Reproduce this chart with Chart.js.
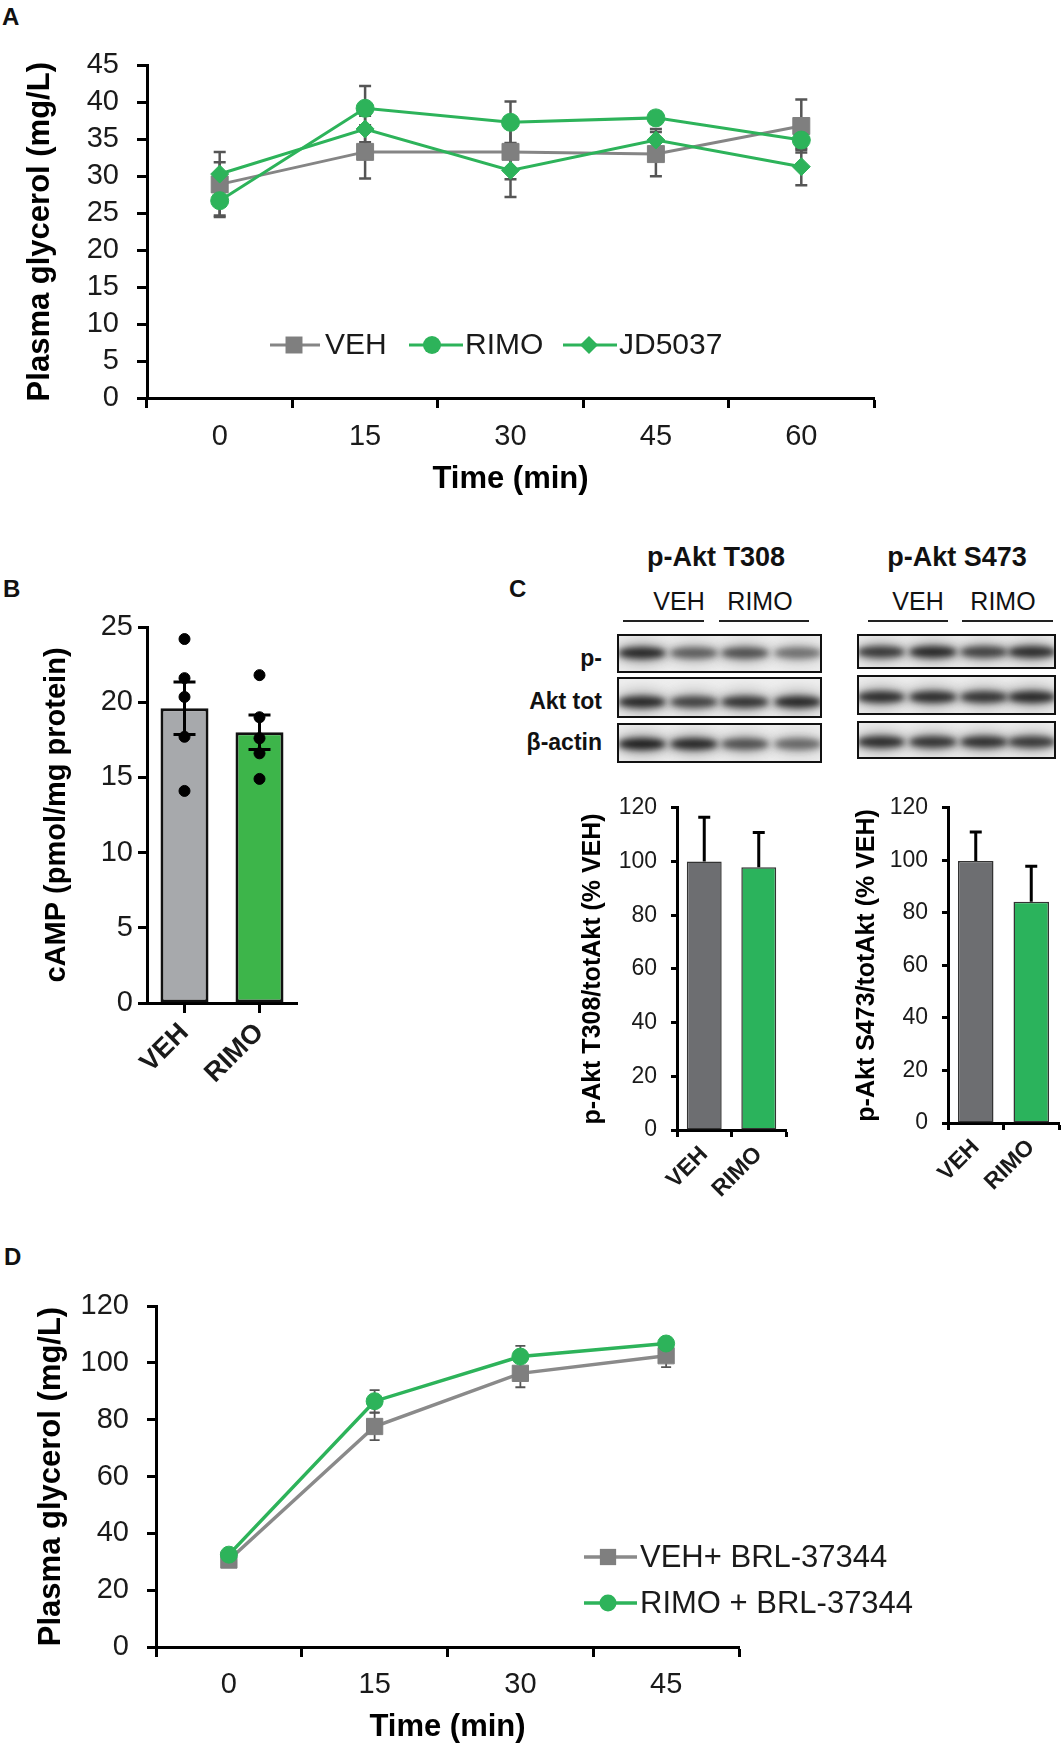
<!DOCTYPE html>
<html><head><meta charset="utf-8">
<script src="https://cdn.jsdelivr.net/npm/chart.js@4.4.1/dist/chart.umd.min.js"></script>
<style>
html,body{margin:0;padding:0;background:#fff;}
body{width:1061px;height:1747px;position:relative;overflow:hidden;font-family:"Liberation Sans",Arial,sans-serif;}
canvas{position:absolute;}
.t{position:absolute;white-space:nowrap;line-height:1;color:#111;}
.blot{position:absolute;border:2px solid #111;box-sizing:border-box;overflow:hidden;background:#eeeeee;}
.band{position:absolute;border-radius:50%;}
.ln{position:absolute;height:2px;background:#222;}
</style></head><body>
<script>
// ================= DATA =================
const timeA = ['0', '15', '30', '45', '60'];
const vehA = [28.9, 33.3, 33.3, 33.0, 36.8];
const vehAErr = [4.4, 3.6, 3.7, 3.0, 3.6];
const rimoA = [26.7, 39.2, 37.3, 37.9, 34.9];
const rimoAErr = [2.0, 3.0, 2.8, 0.8, 1.3];
const jdA = [30.3, 36.4, 30.8, 34.9, 31.3];
const jdAErr = [1.6, 1.8, 3.6, 1.5, 2.5];

const groupsB = ['VEH', 'RIMO'];
const meanB = [19.6, 18.0];
const semB = [1.75, 1.15];
const dotsVehB = [24.2, 21.6, 20.35, 17.7, 14.1];
const dotsRimoB = [21.8, 19.0, 17.6, 16.6, 14.9];

const groupsC = ['VEH', 'RIMO'];
const t308 = [100, 97.9];
const t308Err = [16.5, 12.9];
const s473 = [99.7, 84.2];
const s473Err = [11.1, 13.5];

const timeD = ['0', '15', '30', '45'];
const vehD = [30.6, 77.6, 96.3, 102.5];
const vehDErr = [1.5, 4.8, 4.9, 4.0];
const rimoD = [32.5, 86.5, 102.2, 106.8];
const rimoDErr = [1.5, 3.9, 3.8, 1.6];

const blotRowLabels = ['p-', 'Akt tot', 'β-actin'];
const bandT308 = [[0.95, 0.65, 0.72, 0.55], [0.95, 0.8, 0.88, 0.95], [1.0, 0.95, 0.72, 0.6]];
const bandS473 = [[0.85, 0.95, 0.8, 0.92], [0.92, 0.92, 0.88, 0.95], [0.92, 0.88, 0.9, 0.85]];

// ================= HELPERS =================
const FONT = '"Liberation Sans", Arial, sans-serif';
Chart.defaults.font.family = FONT;
Chart.defaults.color = '#1a1a1a';

function mk(left, top, w, h) {
  const c = document.createElement('canvas');
  c.width = w; c.height = h;
  c.style.left = left + 'px'; c.style.top = top + 'px';
  c.style.width = w + 'px'; c.style.height = h + 'px';
  document.body.appendChild(c);
  return c;
}
function txt(s, x, y, size, bold, align) {
  const d = document.createElement('div');
  d.className = 't';
  d.textContent = s;
  d.style.fontSize = size + 'px';
  d.style.fontWeight = bold ? 'bold' : 'normal';
  d.style.left = x + 'px'; d.style.top = y + 'px';
  d.style.transform = align === 'r' ? 'translate(-100%,-50%)' : align === 'c' ? 'translate(-50%,-50%)' : 'none';
  document.body.appendChild(d);
}
function line(x, y, w) {
  const d = document.createElement('div');
  d.className = 'ln';
  d.style.left = x + 'px'; d.style.top = y + 'px'; d.style.width = w + 'px';
  document.body.appendChild(d);
}
function marker(ctx, style, x, y, r, fill) {
  ctx.fillStyle = fill; ctx.beginPath();
  if (style === 'rect') { const s = r * Math.SQRT1_2; ctx.rect(x - s, y - s, 2 * s, 2 * s); }
  else if (style === 'rectRot') { ctx.moveTo(x, y - r); ctx.lineTo(x + r, y); ctx.lineTo(x, y + r); ctx.lineTo(x - r, y); ctx.closePath(); }
  else ctx.arc(x, y, r, 0, Math.PI * 2);
  ctx.fill();
}
const legendPlugin = {
  id: 'pageLegend',
  afterDraw(chart, args, o) {
    if (!o || !o.items) return;
    const ctx = chart.ctx; ctx.save();
    o.items.forEach(it => {
      const ds = chart.data.datasets[it.ds];
      const y = it.y - o.oy, x0 = it.x0 - o.ox, x1 = it.x1 - o.ox;
      ctx.strokeStyle = ds.borderColor; ctx.lineWidth = ds.borderWidth;
      ctx.beginPath(); ctx.moveTo(x0, y); ctx.lineTo(x1, y); ctx.stroke();
      marker(ctx, ds.pointStyle, it.mx - o.ox, y, ds.pointRadius, ds.pointBackgroundColor);
      ctx.fillStyle = '#1a1a1a'; ctx.font = o.txtFont; ctx.textBaseline = 'middle'; ctx.textAlign = 'left';
      ctx.fillText(ds.label, it.tx - o.ox, y + 1);
    });
    ctx.restore();
  }
};
function drawErr(chart, o) {
  const ctx = chart.ctx, xs = chart.scales.x, ys = chart.scales.y;
  ctx.save(); ctx.strokeStyle = o.color; ctx.lineWidth = o.width;
  o.sets.forEach(s => {
    s.v.forEach((v, i) => {
      const x = xs.getPixelForValue(i);
      const yt = ys.getPixelForValue(v + s.e[i]);
      const yb = ys.getPixelForValue(o.upOnly ? v : v - s.e[i]);
      ctx.beginPath(); ctx.moveTo(x, yt); ctx.lineTo(x, yb);
      ctx.moveTo(x - o.cap, yt); ctx.lineTo(x + o.cap, yt);
      if (!o.upOnly) { ctx.moveTo(x - o.cap, yb); ctx.lineTo(x + o.cap, yb); }
      ctx.stroke();
    });
  });
  ctx.restore();
}
const errPlugin = {
  id: 'errBars',
  beforeDatasetsDraw(chart, a, o) { if (o && o.sets && o.under) drawErr(chart, o); },
  afterDatasetsDraw(chart, a, o) { if (o && o.sets && !o.under) drawErr(chart, o); }
};
function yScale(o) {
  return {
    type: 'linear', min: o.min, max: o.max,
    ticks: { stepSize: o.step, autoSkip: false, color: '#1a1a1a', font: { size: o.fs }, padding: o.pad },
    grid: { drawOnChartArea: false, drawTicks: true, tickLength: o.tl, tickWidth: 3, tickColor: '#000' },
    border: { display: true, color: '#000', width: 3 },
    title: { display: true, text: o.title, color: '#000', font: { size: o.tfs, weight: 'bold', lineHeight: 1.2 }, padding: { top: o.tpad, bottom: 0 } },
    afterFit: s => { s.width = o.w; }
  };
}
function xScale(o) {
  return {
    type: 'category', offset: true,
    ticks: { color: '#1a1a1a', font: { size: o.fs, weight: o.bold ? 'bold' : 'normal' }, padding: o.pad, maxRotation: o.rot, minRotation: o.rot, autoSkip: false },
    grid: { drawOnChartArea: false, drawTicks: true, offset: o.gridOffset, tickLength: o.tl, tickWidth: 3, tickColor: '#000' },
    border: { display: true, color: '#000', width: 3 },
    title: o.title ? { display: true, text: o.title, color: '#000', font: { size: o.tfs, weight: 'bold', lineHeight: 1.2 }, padding: { top: 0, bottom: o.tpad } } : { display: false },
    afterFit: s => { s.height = o.h; }
  };
}
const GRAY = '#7f7f7f', GREEN = '#2db35a';

// ================= PANEL A =================
txt('A', 2, 5, 24, true);
(function () {
  const L = 0, T = 30;
  new Chart(mk(L, T, 900, 480), {
    type: 'line',
    data: {
      labels: timeA,
      datasets: [
        { label: 'VEH', data: vehA, borderColor: '#858585', borderWidth: 3, pointStyle: 'rect', pointRadius: 12, pointBackgroundColor: GRAY, pointBorderColor: GRAY, pointBorderWidth: 1, order: 3 },
        { label: 'RIMO', data: rimoA, borderColor: GREEN, borderWidth: 3, pointStyle: 'circle', pointRadius: 9, pointBackgroundColor: GREEN, pointBorderColor: GREEN, pointBorderWidth: 1, order: 1 },
        { label: 'JD5037', data: jdA, borderColor: GREEN, borderWidth: 3, pointStyle: 'rectRot', pointRadius: 9, pointBackgroundColor: GREEN, pointBorderColor: GREEN, pointBorderWidth: 1, order: 2 }
      ]
    },
    options: {
      responsive: false, animation: false,
      layout: { padding: { top: 28, right: 26, left: 0, bottom: 0 } },
      scales: {
        x: xScale({ fs: 29, pad: 12, rot: 0, gridOffset: true, tl: 10, h: 112, title: 'Time (min)', tfs: 31, tpad: 12 }),
        y: yScale({ min: 0, max: 45, step: 5, fs: 29, pad: 18, tl: 10, title: 'Plasma glycerol (mg/L)', tfs: 31, tpad: 22, w: 147 })
      },
      plugins: {
        legend: { display: false }, tooltip: { enabled: false },
        errBars: { under: true, color: '#555', width: 2.5, cap: 6, sets: [{ v: vehA, e: vehAErr }, { v: rimoA, e: rimoAErr }, { v: jdA, e: jdAErr }] },
        pageLegend: { ox: L, oy: T, txtFont: '30px ' + FONT, items: [
          { ds: 0, y: 345, x0: 270, x1: 320, mx: 294, tx: 325 },
          { ds: 1, y: 345, x0: 409, x1: 463, mx: 432, tx: 465 },
          { ds: 2, y: 345, x0: 563, x1: 617, mx: 589, tx: 619 }
        ] }
      }
    },
    plugins: [errPlugin, legendPlugin]
  });
})();

// ================= PANEL B =================
txt('B', 3, 577, 24, true);
new Chart(mk(0, 590, 320, 520), {
  type: 'bar',
  data: {
    labels: groupsB,
    datasets: [
      { type: 'bar', data: meanB, backgroundColor: ['#a7a9ac', '#3db54a'], borderColor: '#111', borderWidth: 3, borderSkipped: false, barPercentage: 0.64, categoryPercentage: 1, order: 2 },
      { type: 'line', data: dotsVehB.map(v => ({ x: 'VEH', y: v })), showLine: false, pointRadius: 5.5, pointBackgroundColor: '#000', pointBorderColor: '#000', order: 1 },
      { type: 'line', data: dotsRimoB.map(v => ({ x: 'RIMO', y: v })), showLine: false, pointRadius: 5.5, pointBackgroundColor: '#000', pointBorderColor: '#000', order: 1 }
    ]
  },
  options: {
    responsive: false, animation: false,
    layout: { padding: { top: 37, right: 23, left: 0, bottom: 0 } },
    scales: {
      x: xScale({ fs: 27, bold: true, pad: 4, rot: 45, gridOffset: false, tl: 10, h: 107 }),
      y: yScale({ min: 0, max: 25, step: 5, fs: 29, pad: 5, tl: 9, title: 'cAMP (pmol/mg protein)', tfs: 29, tpad: 40, w: 147 })
    },
    plugins: {
      legend: { display: false }, tooltip: { enabled: false },
      errBars: { under: false, color: '#000', width: 3, cap: 11, sets: [{ v: meanB, e: semB }] }
    }
  },
  plugins: [errPlugin]
});

// ================= PANEL C (blots) =================
txt('C', 509, 577, 24, true);
txt('p-Akt T308', 716, 557, 27, true, 'c');
txt('p-Akt S473', 957, 557, 27, true, 'c');
txt('VEH', 679, 601, 25, false, 'c');
txt('RIMO', 760, 601, 25, false, 'c');
txt('VEH', 918, 601, 25, false, 'c');
txt('RIMO', 1003, 601, 25, false, 'c');
line(623, 620, 81); line(719, 620, 90);
line(868, 620, 80); line(962, 620, 91);
const rowLabelY = [658, 701, 742];
blotRowLabels.forEach((s, i) => txt(s, 602, rowLabelY[i], 23, true, 'r'));

function blot(x, w, rows, lanes, bandY, intens) {
  rows.forEach((r, ri) => {
    const b = document.createElement('div');
    b.className = 'blot';
    b.style.left = x + 'px'; b.style.top = r[0] + 'px';
    b.style.width = w + 'px'; b.style.height = (r[1] - r[0]) + 'px';
    lanes.forEach((lx, li) => {
      const d = intens[ri][li];
      const halo = document.createElement('div');
      halo.className = 'band';
      halo.style.left = (lx - x - 28) + 'px'; halo.style.top = (bandY[ri] - r[0] - 13) + 'px';
      halo.style.width = '56px'; halo.style.height = '26px';
      halo.style.background = 'rgba(70,70,70,' + (0.3 * d) + ')';
      halo.style.filter = 'blur(6px)';
      b.appendChild(halo);
      const bd = document.createElement('div');
      bd.className = 'band';
      bd.style.left = (lx - x - 24) + 'px'; bd.style.top = (bandY[ri] - r[0] - 6) + 'px';
      bd.style.width = '48px'; bd.style.height = '12px';
      bd.style.background = 'rgba(15,15,15,' + (0.9 * d) + ')';
      bd.style.filter = 'blur(3px)';
      b.appendChild(bd);
    });
    document.body.appendChild(b);
  });
}
blot(617, 205, [[634, 673], [677, 718], [723, 763]], [640, 692, 743, 796], [651, 700, 742], bandT308);
blot(857, 199, [[634, 669], [675, 715], [721, 759]], [879, 931, 982, 1030], [650, 695, 740], bandS473);

// ================= PANEL C (bars) =================
function cChart(left, w, pr, yw, tpad, xh, vals, errs, title) {
  new Chart(mk(left, 780, w, 420), {
    type: 'bar',
    data: { labels: groupsC, datasets: [{ data: vals, backgroundColor: ['#6d6e71', '#2bb35c'], borderColor: '#333', borderWidth: 1.5, borderSkipped: false, barPercentage: 0.64, categoryPercentage: 1 }] },
    options: {
      responsive: false, animation: false,
      layout: { padding: { top: pr.top, right: pr.right, left: 0, bottom: 0 } },
      scales: {
        x: xScale({ fs: 23, bold: true, pad: 4, rot: 45, gridOffset: true, tl: 7, h: xh }),
        y: yScale({ min: 0, max: 120, step: 20, fs: 23, pad: 14, tl: 6, title: title, tfs: 25, tpad: tpad, w: yw })
      },
      plugins: {
        legend: { display: false }, tooltip: { enabled: false },
        errBars: { under: false, upOnly: true, color: '#000', width: 3, cap: 6, sets: [{ v: vals, e: errs }] }
      }
    },
    plugins: [errPlugin]
  });
}
cChart(560, 240, { top: 22, right: 14 }, 117, 18, 70, t308, t308Err, 'p-Akt T308/totAkt (% VEH)');
cChart(830, 231, { top: 21, right: 2 }, 118, 22, 77, s473, s473Err, 'p-Akt S473/totAkt (% VEH)');

// ================= PANEL D =================
txt('D', 4, 1245, 24, true);
(function () {
  const L = 0, T = 1270;
  new Chart(mk(L, T, 1061, 477), {
    type: 'line',
    data: {
      labels: timeD,
      datasets: [
        { label: 'VEH+ BRL-37344', data: vehD, borderColor: '#8a8a8a', borderWidth: 3.5, pointStyle: 'rect', pointRadius: 11.5, pointBackgroundColor: GRAY, pointBorderColor: GRAY, pointBorderWidth: 1, order: 2 },
        { label: 'RIMO + BRL-37344', data: rimoD, borderColor: GREEN, borderWidth: 3.5, pointStyle: 'circle', pointRadius: 8.5, pointBackgroundColor: GREEN, pointBorderColor: GREEN, pointBorderWidth: 1, order: 1 }
      ]
    },
    options: {
      responsive: false, animation: false,
      layout: { padding: { top: 36, right: 322, left: 0, bottom: 0 } },
      scales: {
        x: xScale({ fs: 29, pad: 11, rot: 0, gridOffset: true, tl: 10, h: 100, title: 'Time (min)', tfs: 31, tpad: 1 }),
        y: yScale({ min: 0, max: 120, step: 20, fs: 29, pad: 18, tl: 9, title: 'Plasma glycerol (mg/L)', tfs: 31, tpad: 33, w: 156 })
      },
      plugins: {
        legend: { display: false }, tooltip: { enabled: false },
        errBars: { under: true, color: '#555', width: 1.8, cap: 5, sets: [{ v: vehD, e: vehDErr }, { v: rimoD, e: rimoDErr }] },
        pageLegend: { ox: L, oy: T, txtFont: '31px ' + FONT, items: [
          { ds: 0, y: 1557, x0: 584, x1: 637, mx: 608, tx: 640 },
          { ds: 1, y: 1603, x0: 584, x1: 637, mx: 608, tx: 640 }
        ] }
      }
    },
    plugins: [errPlugin, legendPlugin]
  });
})();
</script>
</body></html>
